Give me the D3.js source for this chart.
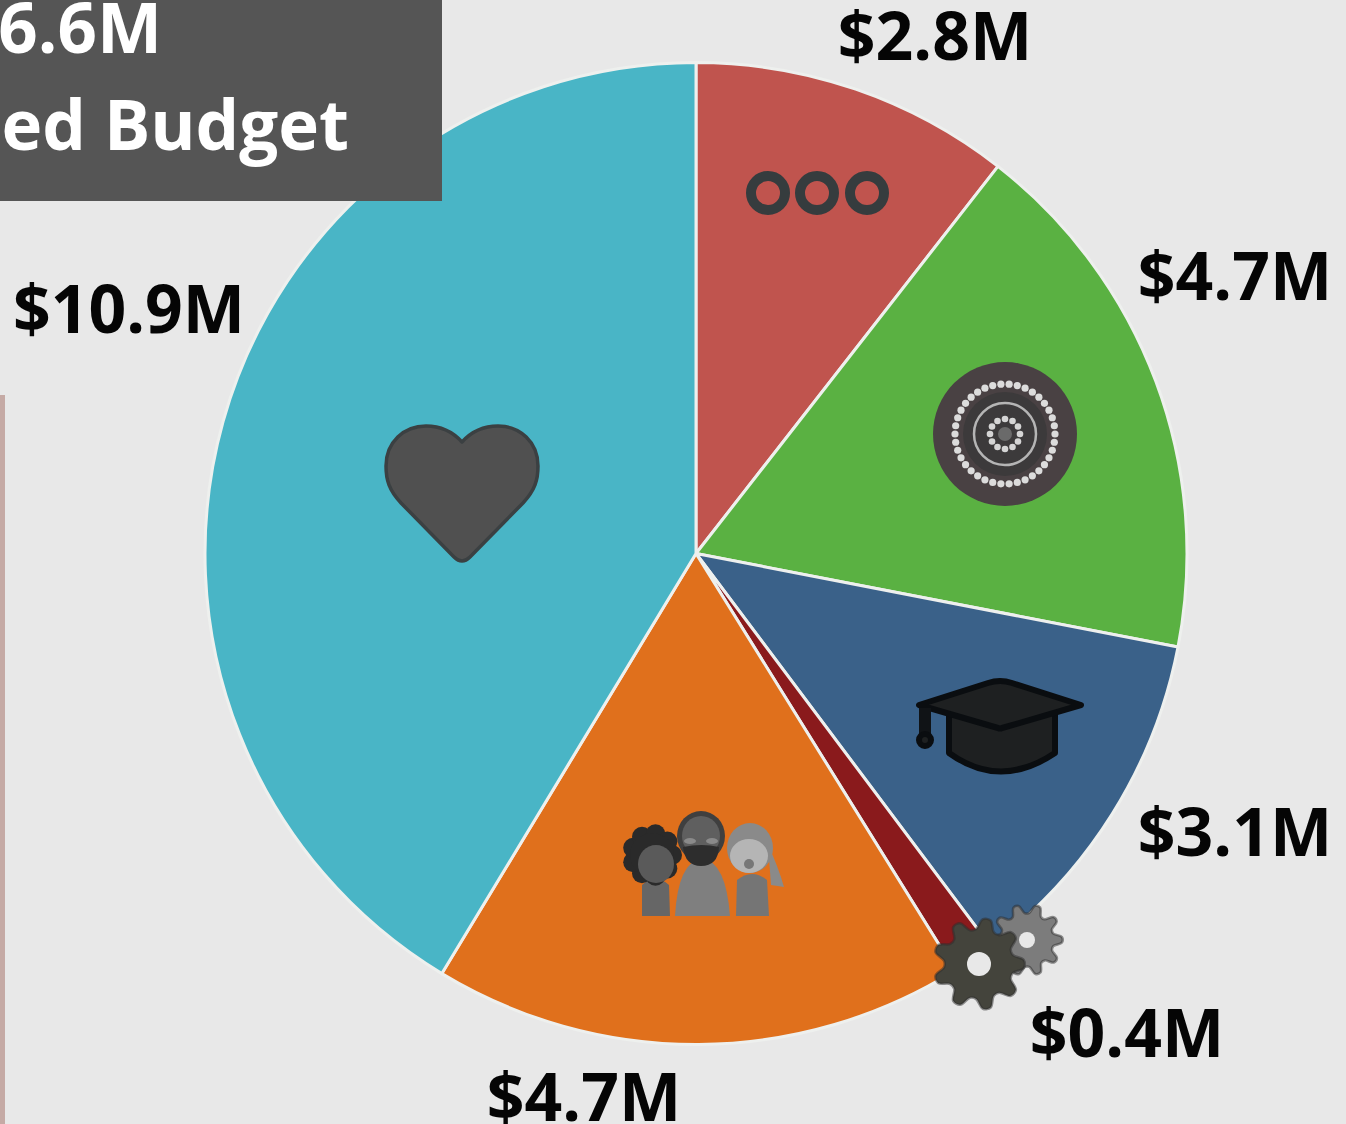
<!DOCTYPE html>
<html><head><meta charset="utf-8">
<script src="https://cdn.jsdelivr.net/npm/d3@7"></script>
<style>
html,body{margin:0;padding:0;background:#e8e8e8;overflow:hidden}
svg{display:block;filter:blur(0.6px)}
text{font-family:"Open Sans",sans-serif;font-weight:700}
</style></head><body>
<div id="chart"></div>
<script>
const categories = ["Governance","Culture","Education","Operations","Community","Health"];
const budgetValues = [2.8,4.65,3.11,0.37,4.65,10.98];
const valueLabels = ["$2.8M","$4.7M","$3.1M","$0.4M","$4.7M","$10.9M"];
const sliceColors = ["#c0544e","#5ab142","#3a6189","#8a1a1c","#e0701c","#49b5c6"];
const titleLines = ["$26.6M","Allocated Budget"];

const W=1346,H=1124,cx=696,cy=553.5,R=491;
const svg=d3.select("#chart").append("svg").attr("width",W).attr("height",H);
svg.append("rect").attr("width",W).attr("height",H).attr("fill","#e8e8e8");
svg.append("rect").attr("x",0).attr("y",395).attr("width",5).attr("height",H-395).attr("fill","#c5aaa5");

const pie=d3.pie().sort(null)(budgetValues);
const arc=d3.arc().innerRadius(0).outerRadius(R);
const g=svg.append("g").attr("transform",`translate(${cx},${cy})`);
g.selectAll("path").data(pie).join("path")
 .attr("d",arc).attr("fill",(d,i)=>sliceColors[i])
 .attr("stroke","#eef0ee").attr("stroke-width",3).attr("stroke-linejoin","round");

// title box
svg.append("rect").attr("x",-2).attr("y",-2).attr("width",444).attr("height",203).attr("fill","#555555");
const titleRight=[162,349], titleY=[53,150];
svg.selectAll(".title").data(titleLines).join("text").attr("class","title")
 .attr("x",(d,i)=>titleRight[i]).attr("y",(d,i)=>titleY[i]).attr("fill","#fff")
 .attr("text-anchor","end").attr("font-size",69).text(d=>d);

// labels
const labelPos=[[935,60],[1235,300],[1235,856],[1127,1057],[584,1121],[129,333]];
svg.selectAll(".lab").data(valueLabels).join("text").attr("class","lab")
 .attr("x",(d,i)=>labelPos[i][0]).attr("y",(d,i)=>labelPos[i][1])
 .attr("text-anchor","middle").attr("font-size",66).attr("fill","#050505").text(d=>d);

// rings icon
const rings=svg.append("g");
[768,817,867].forEach(x=>rings.append("circle").attr("cx",x).attr("cy",193).attr("r",17)
  .attr("fill","none").attr("stroke","#363c3e").attr("stroke-width",10));

// dot painting icon
const dot=svg.append("g").attr("transform","translate(1005,434)");
dot.append("circle").attr("r",72).attr("fill","#494143");
dot.append("circle").attr("r",42).attr("fill","#3c3a3b");
function dots(r,n,s,c){for(let k=0;k<n;k++){const a=k/n*2*Math.PI;
  dot.append("circle").attr("cx",r*Math.cos(a)).attr("cy",r*Math.sin(a)).attr("r",s).attr("fill",c);}}
dots(50,38,3.6,"#dcdcdc");
dot.append("circle").attr("r",31).attr("fill","none").attr("stroke","#b5b5b5").attr("stroke-width",2.5);
dots(15,12,3.3,"#d5d5d5");
dot.append("circle").attr("r",7).attr("fill","#6a6a6a");

// graduation cap icon
const cap=svg.append("g").attr("fill","#1e2021").attr("stroke","#0a0d10").attr("stroke-width",6).attr("stroke-linejoin","round");
cap.append("path").attr("d","M949 712 L949 753 Q1000 790 1055 753 L1055 712 Z");
cap.append("path").attr("d","M919 705 L988 683 Q1000 679 1012 683 L1081 705 L1002 728 Q1000 729 998 728 Z");
cap.append("path").attr("d","M925 708 L925 735").attr("stroke-width",12).attr("fill","none").attr("stroke","#101316");
cap.append("circle").attr("cx",925).attr("cy",740).attr("r",6);

// people icon
const ppl=svg.append("g");
ppl.append("path").attr("d","M642 916 L642 885 Q655 872 669 885 L670 916 Z").attr("fill","#666666");
const hairAngles=d3.range(0,360,40);
hairAngles.forEach(a=>ppl.append("circle").attr("cx",652+20*Math.cos(a*Math.PI/180)).attr("cy",855+21*Math.sin(a*Math.PI/180)).attr("r",10).attr("fill","#2a2a2a"));
ppl.append("circle").attr("cx",652).attr("cy",855).attr("r",22).attr("fill","#2a2a2a");
ppl.append("ellipse").attr("cx",656).attr("cy",864).attr("rx",18).attr("ry",19).attr("fill","#5a5a5a");
ppl.append("path").attr("d","M675 916 Q678 862 702 858 Q726 862 730 916 Z").attr("fill","#7f7f7f");
ppl.append("ellipse").attr("cx",701).attr("cy",836).attr("rx",24).attr("ry",25).attr("fill","#3f3f3f");
ppl.append("ellipse").attr("cx",701).attr("cy",836).attr("rx",19).attr("ry",20).attr("fill","#5f5f5f");
ppl.append("path").attr("d","M683 847 Q702 843 719 847 Q718 866 701 866 Q685 866 683 847Z").attr("fill","#2d2d2d");
ppl.append("ellipse").attr("cx",690).attr("cy",841).attr("rx",6).attr("ry",3).attr("fill","#8a8a8a");
ppl.append("ellipse").attr("cx",712).attr("cy",841).attr("rx",6).attr("ry",3).attr("fill","#8a8a8a");
ppl.append("path").attr("d","M736 916 L737 880 Q752 868 767 880 L769 916 Z").attr("fill","#757575");
ppl.append("path").attr("d","M768 845 Q778 866 784 887 L771 885 Z").attr("fill","#8a8a8a");
ppl.append("ellipse").attr("cx",750).attr("cy",848).attr("rx",23).attr("ry",25).attr("fill","#8a8a8a");
ppl.append("ellipse").attr("cx",749).attr("cy",856).attr("rx",19).attr("ry",17).attr("fill","#b5b5b5");
ppl.append("ellipse").attr("cx",749).attr("cy",864).attr("rx",5).attr("ry",5).attr("fill","#777");

// gears icon
function gear(x,y,ro,ri,teeth,hole,fill,rot){
  const n=teeth*4, pts=[];
  for(let k=0;k<n;k++){const a=(k+0.5)/n*2*Math.PI+rot;pts.push([a,(k%4<2)?ro:ri]);}
  const p=d3.lineRadial().curve(d3.curveCatmullRomClosed.alpha(0.5))(pts);
  const gg=svg.append("g").attr("transform",`translate(${x},${y})`);
  gg.append("path").attr("d",p).attr("fill",fill).attr("stroke","rgba(45,45,45,.5)").attr("stroke-width",2.5).attr("stroke-linejoin","round");
  gg.append("circle").attr("r",hole).attr("fill","#e8e8e8");
}
gear(1027,940,35,27,10,8,"#7c7c7c",0.15);
gear(979,964,45,35,9,12,"#44443c",0);

// heart icon
svg.append("path").attr("d","M462 561 Q458 561 454 557 L401 503 C389 490 386 480 386 466 C386 442 404 426 426 426 C441 426 453 432 462 442 C471 432 483 426 498 426 C520 426 538 442 538 466 C538 480 535 490 523 503 L470 557 Q466 561 462 561 Z")
 .attr("fill","#505050").attr("stroke","#3b4042").attr("stroke-width",3.5).attr("stroke-linejoin","round");
</script></body></html>
